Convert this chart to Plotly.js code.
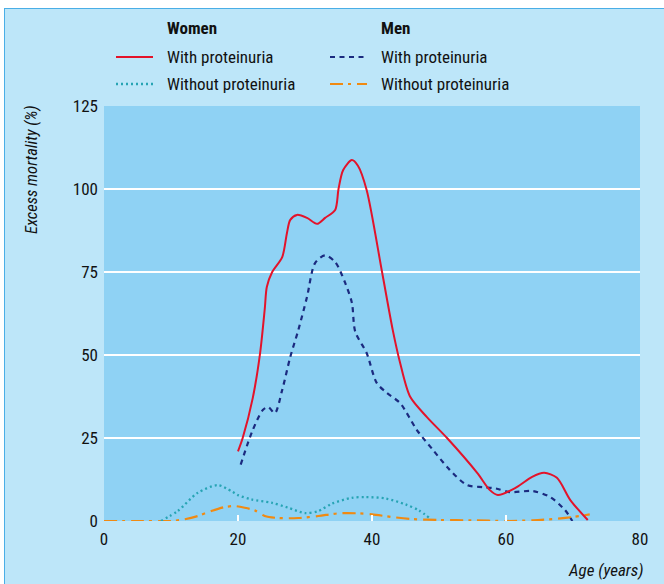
<!DOCTYPE html>
<html>
<head>
<meta charset="utf-8">
<script src="https://cdn.plot.ly/plotly-3.0.1.min.js"></script>
<style>
  html, body { margin: 0; padding: 0; background: #ffffff; }
  #chart { position: absolute; left: 4px; top: 8px; width: 659px; height: 575px;
           border-left: 1px solid #4aaee6; border-top: 1px solid #4aaee6; }
</style>
</head>
<body>
<div id="chart"></div>
<script>
// ---- data ----
const womenProtAge = [20, 20.7, 22.2, 23.3, 24, 24.3, 25.1, 26.6, 27.3, 27.8, 28.8, 30.3, 31.8, 33, 34.5, 35, 35.7, 37, 37.9, 39.2, 41.5, 43.1, 44.2, 45.7, 48.2, 51.2, 55.7, 57.6, 58.8, 61.6, 63.9, 65.7, 67.6, 69.6, 72.2];
const womenProtVal = [21, 25, 37, 50.6, 64, 70.5, 75, 79.5, 86.7, 90.7, 92.2, 91.3, 89.5, 91.3, 93.7, 100, 105.7, 108.7, 107, 99.7, 75, 57.5, 47.6, 37.4, 31.3, 25, 14.5, 9.3, 7.8, 10.2, 13.3, 14.5, 13, 6.3, 0.3];

const menProtAge = [20.4, 22.2, 23.7, 24.5, 25.5, 26.6, 27.8, 29, 30.3, 31.5, 33, 34.5, 36, 37, 37.5, 39.2, 40.7, 42.2, 44.2, 46.7, 49.1, 51.6, 54.2, 56.6, 58.5, 60.6, 64, 66.6, 68.8, 69.9];
const menProtVal = [17, 27.4, 33.4, 34.3, 32.5, 39.5, 49.4, 57.5, 67.5, 77.7, 80, 78, 71.7, 65.7, 57, 50.6, 41.6, 38.6, 35.5, 27.4, 21.4, 15.4, 10.8, 10.2, 9.8, 8.7, 9, 7.2, 3.3, 0];

const womenNoProtAge = [8.5, 11, 14, 17, 19, 20, 22, 25, 27.5, 30, 32, 34, 37, 39, 42, 45, 47, 48.7];
const womenNoProtVal = [0, 3, 8.5, 10.8, 9, 7.8, 6.5, 5.5, 4, 2.4, 3, 5.2, 7, 7.2, 6.8, 5, 3.2, 0.7];

const menNoProtAge = [0, 5, 10, 12, 14, 16, 18, 19.5, 21, 22.5, 24, 26, 29, 32, 35, 38, 40, 43, 46, 50, 55, 60, 64, 67, 70, 72.5];
const menNoProtVal = [0, 0, 0, 0.5, 1.5, 3, 4.2, 4.5, 4, 3.2, 1.5, 0.9, 0.9, 1.5, 2.3, 2.3, 2, 1.2, 0.6, 0.3, 0.2, 0, 0.2, 0.6, 1.2, 2];

const xTicks = [0, 20, 40, 60, 80];
const yTicks = [0, 25, 50, 75, 100, 125];
const gridVals = [25, 50, 75, 100];

const groupHeaders = ['Women', 'Men'];
const seriesNames = ['With proteinuria', 'Without proteinuria', 'With proteinuria', 'Without proteinuria'];

// ---- styling ----
const FONT = "'Liberation Sans Narrow', 'Arial Narrow', 'Roboto Condensed', 'Liberation Sans', sans-serif";
const RED = '#e3132a', NAVY = '#1b2a7f', TEAL = '#27a4b4', ORANGE = '#f08a12';
const FS = 17;

const styles = [
  {color: RED, dash: 'solid', width: 2},
  {color: TEAL, dash: '2px,3px', width: 2.3},
  {color: NAVY, dash: '5px,4.5px', width: 2.2},
  {color: ORANGE, dash: '13px,5px,3px,6px', width: 2.2}
];

function mk(x, y, st) {
  return {x: x, y: y, type: 'scatter', mode: 'lines', showlegend: false, hoverinfo: 'skip',
          line: {color: st.color, dash: st.dash, width: st.width, shape: 'spline', smoothing: 0.8}};
}

const traces = [
  mk(menNoProtAge, menNoProtVal, styles[3]),
  mk(womenNoProtAge, womenNoProtVal, styles[1]),
  mk(menProtAge, menProtVal, styles[2]),
  mk(womenProtAge, womenProtVal, styles[0])
];

// page pixel -> paper coords (plot area: x 104..640, y 106..521)
const px = p => (p - 104) / 536;
const py = p => (521 - p) / 415;

const shapes = gridVals.map(v => ({type: 'line', xref: 'paper', yref: 'y', x0: 0, x1: 1, y0: v, y1: v,
  line: {color: '#ffffff', width: 2}, layer: 'below'}));

const annotations = [];
const legendCols = [116, 330];
const legendRows = [57, 84];
groupHeaders.forEach((h, i) => {
  annotations.push({xref: 'paper', yref: 'paper', x: px(legendCols[i] + 49), y: py(28), xanchor: 'left', yanchor: 'middle',
    text: '<b>' + h + '</b>', showarrow: false, font: {family: FONT, size: FS, color: '#111'}});
});
seriesNames.forEach((n, k) => {
  const col = Math.floor(k / 2), row = k % 2;
  const st = styles[k];
  annotations.push({xref: 'paper', yref: 'paper', x: px(legendCols[col] + 49), y: py(legendRows[row]), xanchor: 'left', yanchor: 'middle',
    text: n, showarrow: false, font: {family: FONT, size: FS, color: '#111'}});
  shapes.push({type: 'line', xref: 'paper', yref: 'paper', x0: px(legendCols[col]), x1: px(legendCols[col] + 37),
    y0: py(legendRows[row]), y1: py(legendRows[row]), line: {color: st.color, dash: st.dash, width: st.width}});
});
annotations.push({xref: 'paper', yref: 'paper', x: px(31), y: py(170), xanchor: 'center', yanchor: 'middle',
  text: '<i>Excess mortality (%)</i>', textangle: -90, showarrow: false, font: {family: FONT, size: 16.5, color: '#111'}});
annotations.push({xref: 'paper', yref: 'paper', x: px(646), y: py(570), xanchor: 'right', yanchor: 'middle',
  text: '<i>Age (years)</i>', showarrow: false, font: {family: FONT, size: FS, color: '#111'}});

const layout = {
  width: 659, height: 575,
  margin: {l: 99, r: 24, t: 97, b: 63},
  paper_bgcolor: '#bde6f9',
  plot_bgcolor: '#8fd2f4',
  font: {family: FONT, size: FS, color: '#111'},
  showlegend: false,
  xaxis: {range: [0, 80], tickvals: xTicks, ticktext: xTicks.map(String), showgrid: false, zeroline: false,
          ticks: 'inside', ticklen: 6, tickwidth: 2, tickcolor: '#ffffff', showline: false, ticklabelstandoff: 6,
          tickfont: {family: FONT, size: FS, color: '#111'}, fixedrange: true},
  yaxis: {range: [0, 125], tickvals: yTicks, ticktext: yTicks.map(String), showgrid: false, zeroline: false,
          ticks: '', showline: false, ticklabelstandoff: 5,
          tickfont: {family: FONT, size: FS, color: '#111'}, fixedrange: true},
  shapes: shapes,
  annotations: annotations
};

Plotly.newPlot('chart', traces, layout, {staticPlot: true, displayModeBar: false});
</script>
</body>
</html>
